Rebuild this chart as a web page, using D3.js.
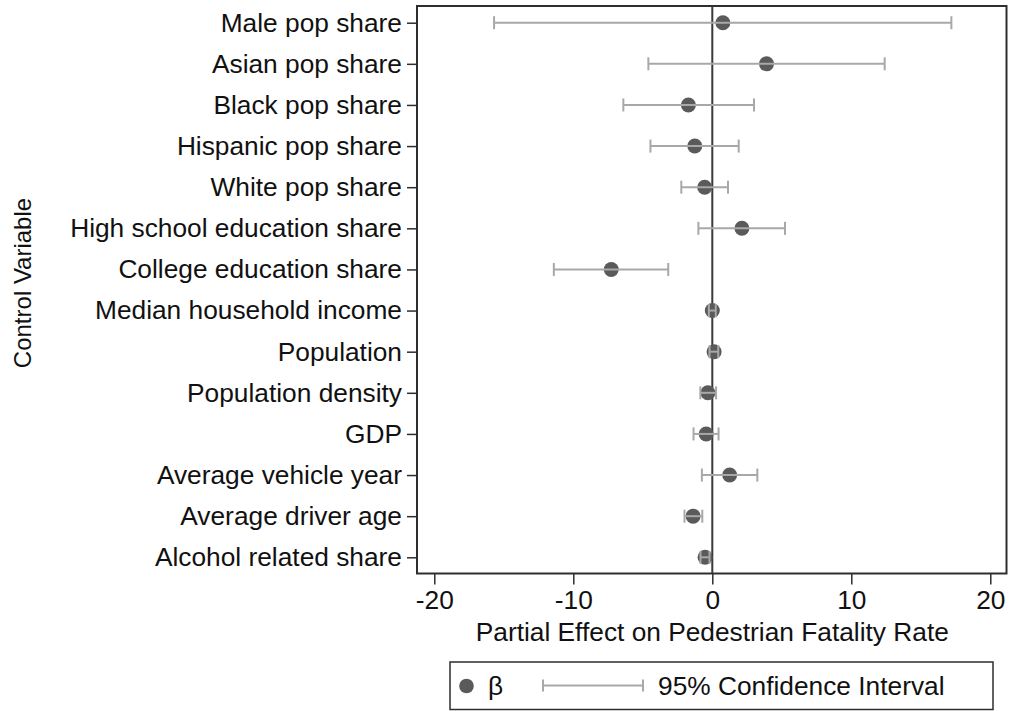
<!DOCTYPE html>
<html>
<head>
<meta charset="utf-8">
<script src="https://cdn.jsdelivr.net/npm/d3@7"></script>
<style>
  html, body { margin: 0; padding: 0; background: #fff; }
  svg { display: block; font-family: "Liberation Sans", Arial, Helvetica, sans-serif; }
</style>
</head>
<body>
<svg id="chart" width="1021" height="711"></svg>
<script>
const categories = [
  "Male pop share", "Asian pop share", "Black pop share", "Hispanic pop share",
  "White pop share", "High school education share", "College education share",
  "Median household income", "Population", "Population density", "GDP",
  "Average vehicle year", "Average driver age", "Alcohol related share"
];
const beta  = [0.76, 3.9, -1.72, -1.26, -0.55, 2.13, -7.27, 0.0, 0.13, -0.32, -0.44, 1.25, -1.38, -0.52];
const ciLow = [-15.7, -4.6, -6.4, -4.45, -2.23, -1.0, -11.4, -0.25, -0.2, -0.86, -1.35, -0.75, -2.0, -0.85];
const ciHigh= [17.2, 12.4, 3.0, 1.9, 1.13, 5.23, -3.17, 0.25, 0.43, 0.27, 0.45, 3.24, -0.72, -0.2];
const xTicks = [-20, -10, 0, 10, 20];
const xTitle = "Partial Effect on Pedestrian Fatality Rate";
const yTitle = "Control Variable";
const legendLabels = ["β", "95% Confidence Interval"];

const svg = d3.select("#chart");
const frame = { left: 417, right: 1006.5, top: 6, bottom: 573.5 };

const x = d3.scaleLinear().domain([-20, 20]).range([434.3, 990.3]);
const y = d3.scalePoint().domain(categories).range([22.7, 557.3]).padding(0);

const dotColor = "#5a5a5a", ciColor = "#a8a8a8", frameColor = "#2e2e2e";
const fs = 26.3;

// Frame
svg.append("rect")
  .attr("x", frame.left).attr("y", frame.top)
  .attr("width", frame.right - frame.left).attr("height", frame.bottom - frame.top)
  .attr("fill", "none").attr("stroke", frameColor).attr("stroke-width", 2);

// Y axis
const yAxis = svg.append("g").attr("transform", `translate(${frame.left},0)`)
  .call(d3.axisLeft(y).tickSize(10).tickPadding(5));
yAxis.select(".domain").remove();
yAxis.selectAll("line").attr("stroke", frameColor).attr("stroke-width", 1.5);
yAxis.selectAll("text").attr("font-size", fs).attr("fill", "#111")
  .attr("font-family", "'Liberation Sans', Arial, sans-serif");

// X axis
const xAxis = svg.append("g").attr("transform", `translate(0,${frame.bottom})`)
  .call(d3.axisBottom(x).tickValues(xTicks).tickSize(11).tickPadding(6).tickFormat(d3.format("d")));
xAxis.select(".domain").remove();
xAxis.selectAll("line").attr("stroke", frameColor).attr("stroke-width", 1.5);
xAxis.selectAll("text").attr("font-size", fs).attr("fill", "#111")
  .attr("font-family", "'Liberation Sans', Arial, sans-serif")
  .text(d => d < 0 ? "-" + Math.abs(d) : d);

// Zero line
svg.append("line")
  .attr("x1", x(0)).attr("x2", x(0))
  .attr("y1", frame.top).attr("y2", frame.bottom)
  .attr("stroke", "#3a3a3a").attr("stroke-width", 2);

const rows = categories.map((c, i) => ({ c, b: beta[i], lo: ciLow[i], hi: ciHigh[i] }));

// Dots
svg.append("g").selectAll("circle").data(rows).join("circle")
  .attr("cx", d => x(d.b)).attr("cy", d => y(d.c)).attr("r", 7.5)
  .attr("fill", dotColor);

// CI
const ci = svg.append("g").attr("stroke", ciColor).attr("stroke-width", 2).attr("fill", "none");
ci.selectAll("line.h").data(rows).join("line").attr("class", "h")
  .attr("x1", d => x(d.lo)).attr("x2", d => x(d.hi))
  .attr("y1", d => y(d.c)).attr("y2", d => y(d.c));
ci.selectAll("line.l").data(rows).join("line").attr("class", "l")
  .attr("x1", d => x(d.lo)).attr("x2", d => x(d.lo))
  .attr("y1", d => y(d.c) - 6.5).attr("y2", d => y(d.c) + 6.5);
ci.selectAll("line.r").data(rows).join("line").attr("class", "r")
  .attr("x1", d => x(d.hi)).attr("x2", d => x(d.hi))
  .attr("y1", d => y(d.c) - 6.5).attr("y2", d => y(d.c) + 6.5);

// Titles
svg.append("text").attr("x", x(0)).attr("y", 641)
  .attr("text-anchor", "middle").attr("font-size", fs).attr("fill", "#111")
  .text(xTitle);
svg.append("text").attr("transform", "translate(31,283) rotate(-90)")
  .attr("text-anchor", "middle").attr("font-size", 24).attr("fill", "#111")
  .text(yTitle);

// Legend
const lg = svg.append("g");
lg.append("rect").attr("x", 450).attr("y", 662).attr("width", 543).attr("height", 47.5)
  .attr("fill", "#fff").attr("stroke", frameColor).attr("stroke-width", 1.5);
lg.append("circle").attr("cx", 466.5).attr("cy", 686).attr("r", 7.3).attr("fill", dotColor);
lg.append("text").attr("x", 488).attr("y", 695).attr("font-size", fs).attr("fill", "#111").text(legendLabels[0]);
lg.append("line").attr("x1", 543).attr("x2", 643).attr("y1", 685.5).attr("y2", 685.5)
  .attr("stroke", ciColor).attr("stroke-width", 2);
lg.append("line").attr("x1", 543).attr("x2", 543).attr("y1", 679.5).attr("y2", 691.5)
  .attr("stroke", ciColor).attr("stroke-width", 2);
lg.append("line").attr("x1", 643).attr("x2", 643).attr("y1", 679.5).attr("y2", 691.5)
  .attr("stroke", ciColor).attr("stroke-width", 2);
lg.append("text").attr("x", 658).attr("y", 695).attr("font-size", fs).attr("fill", "#111").text(legendLabels[1]);
</script>
</body>
</html>
